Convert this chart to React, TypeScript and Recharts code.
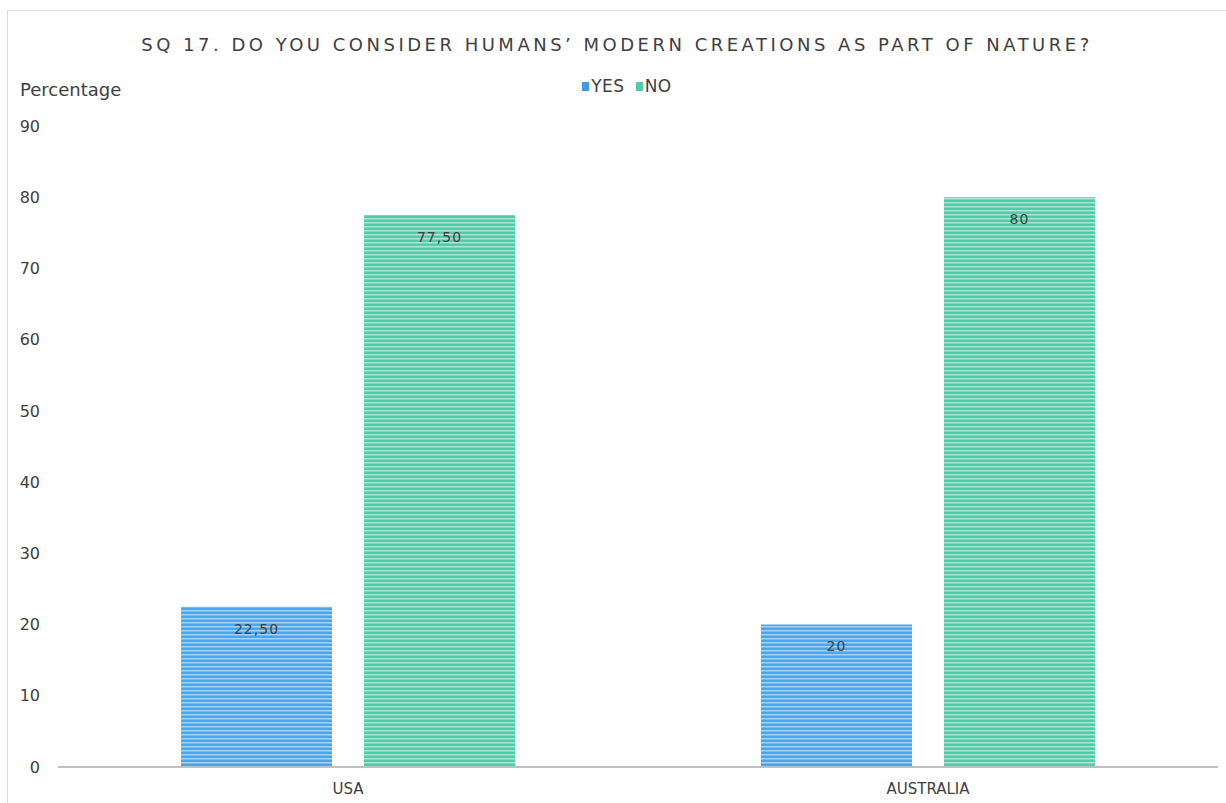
import { BarChart, Bar, XAxis, YAxis, LabelList } from 'recharts'

const countries = ['USA', 'AUSTRALIA']
const yesValues = [22.5, 20]
const noValues = [77.5, 80]
const yTicks = [0, 10, 20, 30, 40, 50, 60, 70, 80, 90]

const data = countries.map((name, i) => ({ name, yes: yesValues[i], no: noValues[i] }))

const fmt = (v: number) => (Number.isInteger(v) ? String(v) : v.toFixed(2).replace('.', ','))

const FONT = '"DejaVu Sans", sans-serif'

function LegendBox() {
  const item = (color: string, label: string, gap: number) => (
    <span style={{ display: 'inline-flex', alignItems: 'center', marginRight: gap }}>
      <span style={{ width: 7, height: 9, background: color, marginRight: 2, display: 'inline-block' }} />
      <span>{label}</span>
    </span>
  )
  return (
    <div
      style={{
        position: 'absolute', left: 0, top: 76, width: 1254, fontFamily: FONT, fontSize: 17,
        letterSpacing: 0.5, color: '#404040', display: 'flex', justifyContent: 'center',
      }}
    >
      {item('#3D9BE9', 'YES', 11)}
      {item('#4DCEA5', 'NO', 0)}
    </div>
  )
}

export default function App() {
  return (
    <div style={{ position: 'absolute', left: 0, top: 0, width: 1226, height: 803, background: '#fff', overflow: 'hidden' }}>
      <div
        style={{
          position: 'absolute', left: 7, top: 10, width: 1240, height: 820,
          border: '1px solid #D9D9D9', boxSizing: 'border-box',
        }}
      />
      <div
        style={{
          position: 'absolute', left: 0, top: 34, width: 1234, textAlign: 'center',
          fontFamily: FONT, fontSize: 18, letterSpacing: 3.5, color: '#404040',
        }}
      >
        SQ 17. DO YOU CONSIDER HUMANS’ MODERN CREATIONS AS PART OF NATURE?
      </div>
      <div style={{ position: 'absolute', left: 20, top: 79, fontFamily: FONT, fontSize: 18, color: '#404040' }}>
        Percentage
      </div>
      <LegendBox />
      <BarChart
        width={1226}
        height={803}
        data={data}
        margin={{ top: 126, right: 8, bottom: 6, left: 0 }}
        barGap={32}
        barCategoryGap={123}
        style={{ position: 'absolute', left: 0, top: 0 }}
      >
        <defs>
          <pattern id="stripeBlue" width="4" height="4" patternUnits="userSpaceOnUse">
            <rect width="4" height="4" fill="#47A6F0" />
            <rect y="2" width="4" height="1.5" fill="#A3D3F8" />
          </pattern>
          <pattern id="stripeGreen" width="4" height="4" patternUnits="userSpaceOnUse">
            <rect width="4" height="4" fill="#4ECDA6" />
            <rect y="2" width="4" height="1.5" fill="#A8E8D4" />
          </pattern>
        </defs>
        <XAxis
          dataKey="name"
          axisLine={{ stroke: '#BFBFBF', strokeWidth: 2 }}
          tickLine={false}
          tickSize={0}
          tickMargin={16}
          height={30}
          tick={{ fill: '#404040', fontSize: 15, fontFamily: FONT }}
        />
        <YAxis
          domain={[0, 90]}
          ticks={yTicks}
          width={58}
          axisLine={false}
          tickLine={false}
          tickSize={0}
          tickMargin={18}
          tick={{ fill: '#404040', fontSize: 16, fontFamily: FONT }}
        />
        <Bar dataKey="yes" fill="url(#stripeBlue)" isAnimationActive={false}>
          <LabelList dataKey="yes" position="insideTop" offset={17} formatter={fmt} fill="#404040" fontSize={14} letterSpacing={1} fontFamily={FONT} />
        </Bar>
        <Bar dataKey="no" fill="url(#stripeGreen)" isAnimationActive={false}>
          <LabelList dataKey="no" position="insideTop" offset={17} formatter={fmt} fill="#404040" fontSize={14} letterSpacing={1} fontFamily={FONT} />
        </Bar>
      </BarChart>
    </div>
  )
}
